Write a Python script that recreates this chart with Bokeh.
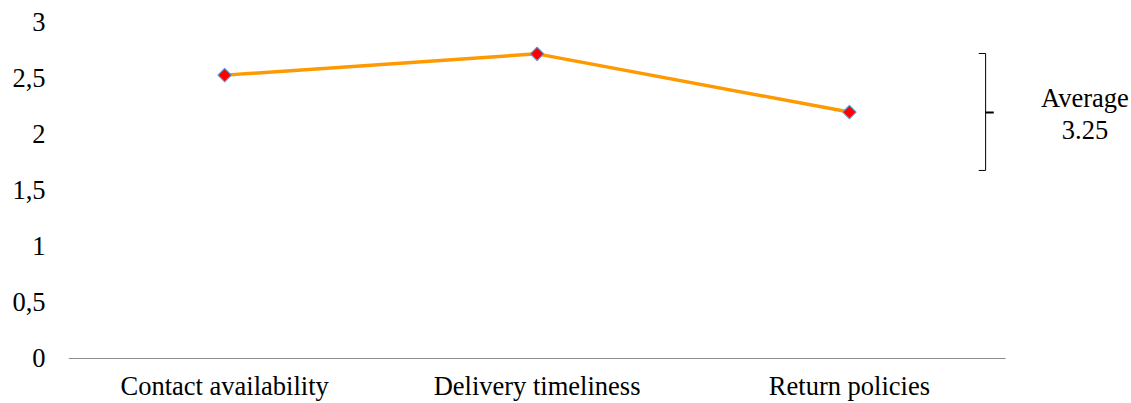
import math
from bokeh.plotting import figure
from bokeh.models import Range1d, FixedTicker, Label
from bokeh.embed import file_html
from bokeh.resources import INLINE

categories = ["Contact availability", "Delivery timeliness", "Return policies"]
values = [2.53, 2.72, 2.20]
y_ticks = [0, 0.5, 1, 1.5, 2, 2.5, 3]
y_tick_labels = ["0", "0,5", "1", "1,5", "2", "2,5", "3"]
note_lines = ["Average", "3.25"]

FONT = "Liberation Serif"
FS = "26.5px"

xs = [i + 0.5 for i in range(len(categories))]

p = figure(width=1131, height=403, output_backend="svg", toolbar_location=None,
           x_range=Range1d(0, 3.403), y_range=Range1d(-0.0536, 3.107),
           min_border_left=68, min_border_right=0, min_border_top=10, min_border_bottom=39)
p.outline_line_color = None
p.grid.grid_line_color = None
p.background_fill_color = "white"

# baseline (category axis line)
p.segment(x0=[0], y0=[0], x1=[len(categories)], y1=[0], line_color="#8c8c8c", line_width=1)

p.line(xs, values, line_color="#FF9900", line_width=3.5)
p.scatter(xs, values, marker="square", angle=math.pi / 4, size=9.5, fill_color="#FF0000",
          line_color="#5B9BD5", line_width=1.2)

# bracket annotation
bx, by0, by1, bym = 2.936, 1.679, 2.723, 2.196
p.segment(x0=[bx, bx - 0.022, bx - 0.022], y0=[by0, by1, by0],
          x1=[bx, bx, bx], y1=[by1, by1, by0],
          line_color="black", line_width=1)
p.segment(x0=[bx], y0=[bym], x1=[bx + 0.026], y1=[bym], line_color="black", line_width=2)

for txt, yy in zip(note_lines, [2.33, 2.04]):
    p.add_layout(Label(x=3.254, y=yy, text=txt, text_font=FONT, text_font_size=FS,
                       text_align="center", text_baseline="middle", text_color="black"))

p.xaxis.ticker = FixedTicker(ticks=xs)
p.xaxis.major_label_overrides = {x: c for x, c in zip(xs, categories)}
p.xaxis.axis_line_color = None
p.xaxis.major_tick_line_color = None
p.xaxis.minor_tick_line_color = None
p.xaxis.major_tick_out = 0
p.xaxis.major_tick_in = 0
p.xaxis.major_label_standoff = 6
p.xaxis.major_label_text_font = FONT
p.xaxis.major_label_text_font_size = FS
p.xaxis.major_label_text_color = "black"

p.yaxis.ticker = FixedTicker(ticks=y_ticks)
p.yaxis.major_label_overrides = {t: l for t, l in zip(y_ticks, y_tick_labels)}
p.yaxis.axis_line_color = None
p.yaxis.major_tick_line_color = None
p.yaxis.minor_tick_line_color = None
p.yaxis.major_tick_out = 0
p.yaxis.major_tick_in = 0
p.yaxis.major_label_standoff = 23
p.yaxis.major_label_text_font = FONT
p.yaxis.major_label_text_font_size = FS
p.yaxis.major_label_text_color = "black"

open("out.html", "w").write(file_html(p, INLINE))
